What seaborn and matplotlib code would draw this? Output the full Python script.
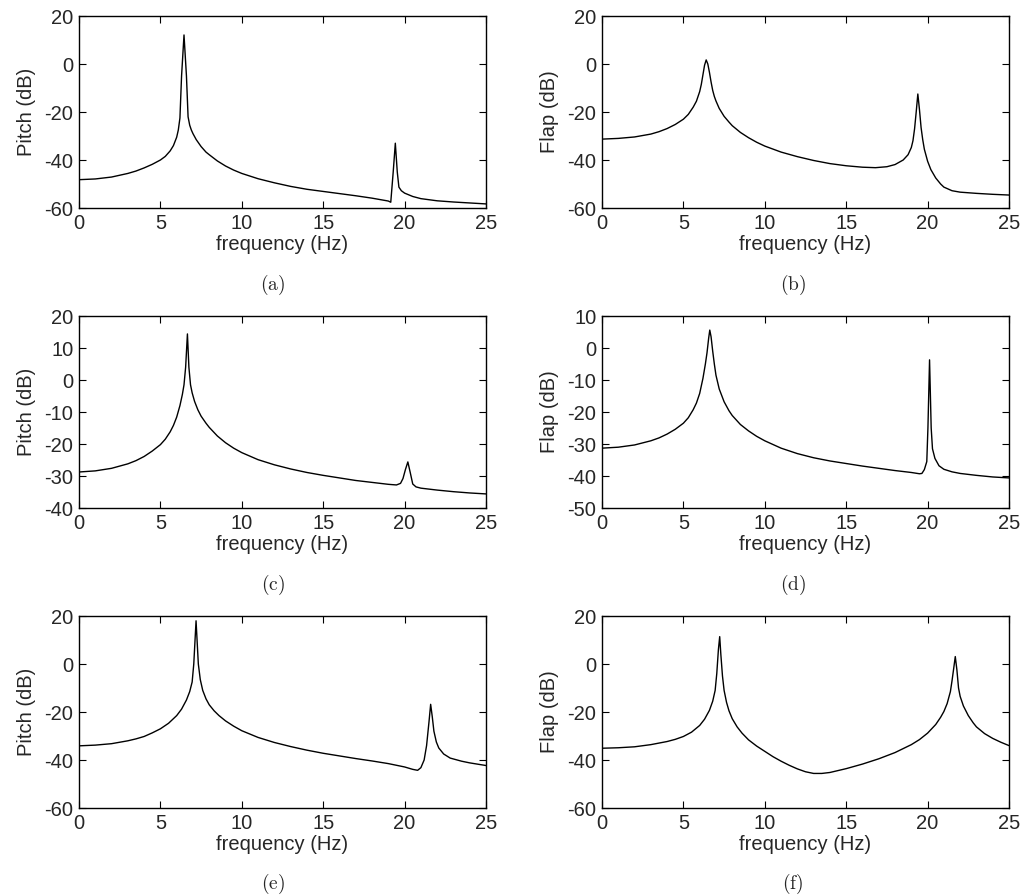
import matplotlib
matplotlib.use("Agg")
import matplotlib.pyplot as plt
import seaborn as sns
import pandas as pd

sns.set_style("ticks")
plt.rcParams['font.family'] = ['Liberation Sans', 'DejaVu Sans']
plt.rcParams['mathtext.fontset'] = 'cm'
plt.rcParams['axes.unicode_minus'] = False

# ---- data (frequency in Hz, response in dB) ----
freq_a = [0, 1, 2, 3, 3.5, 4, 4.5, 5, 5.3, 5.6, 5.8, 6.0, 6.1, 6.2, 6.3, 6.45, 6.6, 6.7, 6.8, 6.9, 7.0, 7.2, 7.5, 7.8, 8, 8.5, 9, 9.5, 10, 11, 12, 13, 14, 15, 16, 17, 18, 18.5, 19, 19.15, 19.3, 19.43, 19.55, 19.65, 19.8, 20, 20.5, 21, 22, 23, 24, 25]
db_a   = [-48.2, -47.9, -47.1, -45.6, -44.6, -43.3, -41.8, -40.0, -38.5, -36.2, -34.0, -30.5, -27.5, -22.5, -5.0, 12.1, -5.0, -22.0, -25.5, -27.5, -29.0, -31.5, -34.4, -36.7, -37.8, -40.4, -42.5, -44.2, -45.6, -47.8, -49.5, -51.0, -52.2, -53.1, -54.0, -54.9, -55.9, -56.5, -57.1, -57.6, -45.0, -33.0, -45.0, -51.3, -52.8, -53.8, -55.2, -56.1, -57.0, -57.5, -57.9, -58.3]

freq_b = [0, 1, 2, 3, 3.5, 4, 4.5, 5, 5.3, 5.6, 5.8, 6.0, 6.1, 6.2, 6.3, 6.4, 6.5, 6.6, 6.7, 6.8, 6.9, 7.0, 7.2, 7.5, 7.8, 8, 8.5, 9, 9.5, 10, 11, 12, 13, 14, 15, 16, 16.8, 17.5, 18, 18.5, 18.8, 19.0, 19.1, 19.2, 19.3, 19.4, 19.5, 19.6, 19.7, 19.8, 20, 20.2, 20.5, 20.8, 21, 21.5, 22, 23, 24, 25]
db_b   = [-31.3, -31.0, -30.4, -29.2, -28.2, -26.9, -25.2, -23.0, -21.0, -18.0, -15.5, -11.5, -8.5, -4.5, -0.5, 1.7, 0.0, -3.5, -7.5, -11.0, -13.5, -15.4, -18.5, -21.8, -24.2, -25.7, -28.5, -30.7, -32.6, -34.2, -36.7, -38.6, -40.2, -41.5, -42.4, -43.0, -43.2, -42.8, -41.9, -40.0, -37.8, -34.8, -32.0, -27.0, -20.0, -12.5, -19.0, -26.5, -31.5, -35.5, -40.5, -44.0, -47.5, -50.0, -51.3, -52.8, -53.4, -53.9, -54.3, -54.6]

freq_c = [0, 1, 2, 3, 3.5, 4, 4.5, 5, 5.3, 5.6, 5.8, 6.0, 6.2, 6.35, 6.45, 6.55, 6.66, 6.75, 6.85, 6.95, 7.1, 7.3, 7.5, 7.8, 8, 8.5, 9, 9.5, 10, 11, 12, 13, 14, 15, 16, 17, 18, 19, 19.5, 19.75, 19.9, 20.05, 20.2, 20.35, 20.5, 20.7, 21, 22, 23, 24, 25]
db_c   = [-28.75, -28.4, -27.6, -26.2, -25.2, -23.9, -22.2, -20.2, -18.5, -16.2, -14.2, -11.6, -8.0, -4.5, -1.5, 4.0, 14.4, 4.0, -1.5, -4.0, -6.7, -9.3, -11.3, -13.5, -14.8, -17.5, -19.6, -21.3, -22.7, -24.9, -26.5, -27.8, -28.9, -29.8, -30.6, -31.4, -32.0, -32.6, -32.8, -32.3, -30.8, -28.0, -25.6, -29.0, -32.5, -33.4, -33.8, -34.4, -34.9, -35.3, -35.6]

freq_d = [0, 1, 2, 3, 3.5, 4, 4.5, 5, 5.3, 5.6, 5.8, 6.0, 6.2, 6.35, 6.45, 6.55, 6.62, 6.7, 6.8, 6.9, 7.0, 7.2, 7.5, 7.8, 8, 8.5, 9, 9.5, 10, 11, 12, 13, 14, 15, 16, 17, 18, 19, 19.5, 19.65, 19.8, 19.95, 20.02, 20.12, 20.22, 20.3, 20.45, 20.7, 21, 21.5, 22, 23, 24, 25]
db_d   = [-31.3, -31.0, -30.3, -29.0, -28.1, -26.9, -25.4, -23.5, -21.8, -19.3, -17.2, -14.2, -9.5, -5.0, -1.5, 3.0, 5.6, 3.5, -1.0, -5.0, -8.5, -12.8, -16.8, -19.6, -21.1, -23.9, -25.9, -27.6, -29.0, -31.3, -33.0, -34.3, -35.3, -36.1, -36.9, -37.6, -38.3, -38.9, -39.3, -39.2, -38.0, -35.5, -25.0, -3.7, -25.0, -31.5, -34.5, -36.8, -37.9, -38.7, -39.2, -39.8, -40.3, -40.6]

freq_e = [0, 1, 2, 3, 3.5, 4, 4.5, 5, 5.5, 6, 6.3, 6.6, 6.8, 6.95, 7.05, 7.19, 7.33, 7.45, 7.6, 7.8, 8, 8.3, 8.6, 9, 9.5, 10, 11, 12, 13, 14, 15, 16, 17, 18, 19, 20, 20.5, 20.8, 21.0, 21.2, 21.35, 21.5, 21.6, 21.7, 21.8, 21.95, 22.1, 22.4, 22.8, 23.5, 24, 25]
db_e   = [-34.1, -33.8, -33.2, -32.0, -31.2, -30.2, -28.7, -27.0, -24.7, -21.5, -18.8, -15.0, -11.5, -7.5, 0.0, 18.0, 0.0, -6.5, -11.0, -14.5, -17.0, -19.5, -21.5, -23.7, -25.9, -27.8, -30.6, -32.7, -34.4, -35.9, -37.2, -38.3, -39.4, -40.4, -41.5, -42.9, -43.9, -44.3, -43.2, -40.0, -34.0, -24.0, -16.8, -22.0, -28.0, -32.5, -35.0, -37.5, -39.2, -40.5, -41.2, -42.3]

freq_f = [0, 1, 2, 3, 4, 4.5, 5, 5.5, 6, 6.3, 6.6, 6.8, 6.95, 7.05, 7.15, 7.23, 7.3, 7.4, 7.5, 7.65, 7.8, 8, 8.3, 8.6, 9, 9.5, 10, 10.5, 11, 11.5, 12, 12.5, 13, 13.5, 14, 15, 16, 17, 18, 19, 19.5, 20, 20.5, 20.8, 21.0, 21.2, 21.4, 21.5, 21.6, 21.7, 21.8, 21.9, 22.0, 22.2, 22.5, 22.8, 23, 23.5, 24, 24.5, 25]
db_f   = [-35.1, -34.9, -34.5, -33.6, -32.3, -31.4, -30.2, -28.4, -25.6, -23.0, -19.3, -15.5, -11.0, -4.0, 6.0, 11.4, 4.0, -5.0, -11.0, -16.0, -19.5, -22.8, -26.2, -28.8, -31.6, -34.2, -36.4, -38.6, -40.5, -42.2, -43.7, -44.9, -45.6, -45.6, -45.2, -43.6, -41.7, -39.5, -36.9, -33.6, -31.5, -28.8, -25.2, -22.2, -19.8, -16.5, -11.5, -7.0, -2.0, 3.1, -2.5, -10.0, -13.5, -17.5, -21.5, -24.5, -26.2, -29.0, -31.0, -32.6, -34.0]

panels = [
    ("(a)", "Pitch (dB)", freq_a, db_a, (-60, 20), [-60, -40, -20, 0, 20]),
    ("(b)", "Flap (dB)", freq_b, db_b, (-60, 20), [-60, -40, -20, 0, 20]),
    ("(c)", "Pitch (dB)", freq_c, db_c, (-40, 20), [-40, -30, -20, -10, 0, 10, 20]),
    ("(d)", "Flap (dB)", freq_d, db_d, (-50, 10), [-50, -40, -30, -20, -10, 0, 10]),
    ("(e)", "Pitch (dB)", freq_e, db_e, (-60, 20), [-60, -40, -20, 0, 20]),
    ("(f)", "Flap (dB)", freq_f, db_f, (-60, 20), [-60, -40, -20, 0, 20]),
]
xticks = [0, 5, 10, 15, 20, 25]

W, H = 1025, 896
fig = plt.figure(figsize=(W / 100, H / 100), dpi=100)

lefts = [79, 602]
tops = [16, 316, 616]
aw, ah = 407, 192
label_x = [273, 793]
label_y = [285, 585, 884]

for i, (tag, ylab, fx, fy, ylim, yticks) in enumerate(panels):
    r, c = divmod(i, 2)
    ax = fig.add_axes([lefts[c] / W, 1 - (tops[r] + ah) / H, aw / W, ah / H])
    df = pd.DataFrame({"freq": fx, "db": fy})
    sns.lineplot(data=df, x="freq", y="db", ax=ax, color="black", linewidth=1.0,
                 estimator=None, sort=False)
    ax.set_xlim(0, 25)
    ax.set_ylim(*ylim)
    ax.set_xticks(xticks)
    ax.set_yticks(yticks)
    ax.set_xlabel("frequency (Hz)", fontsize=14.5, labelpad=2)
    ax.set_ylabel(ylab, fontsize=14.5, labelpad=6)
    ax.tick_params(direction="in", length=5, width=0.8, labelsize=14.5,
                   top=True, right=True, pad=4, color="black")
    for s in ax.spines.values():
        s.set_visible(True)
        s.set_linewidth(1.0)
        s.set_color("black")
    fig.text(label_x[c] / W, 1 - label_y[r] / H, r"$\mathrm{%s}$" % tag,
             ha="center", va="center", fontsize=14)

fig.savefig("out.png", dpi=100)
